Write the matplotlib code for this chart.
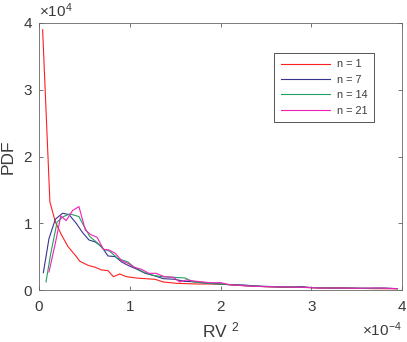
import matplotlib
matplotlib.use("Agg")
import matplotlib.pyplot as plt

# x in units of 1e-4, PDF in units of 1e4 (MATLAB-style exponent labels)
x_n1 = [0.04, 0.12, 0.18, 0.25, 0.32, 0.40, 0.45, 0.54, 0.62, 0.69, 0.76, 0.82, 0.89, 0.96,
        1.07, 1.17, 1.28, 1.37, 1.52, 1.74, 1.96, 2.1, 2.3, 2.5, 2.7, 2.9, 3.1, 3.3, 3.5, 3.7, 3.95]
y_n1 = [3.9, 1.32, 1.02, 0.82, 0.65, 0.52, 0.43, 0.37, 0.34, 0.30, 0.29, 0.20, 0.24, 0.20,
        0.18, 0.17, 0.16, 0.12, 0.10, 0.09, 0.09, 0.08, 0.06, 0.05, 0.04, 0.04, 0.03, 0.03, 0.025, 0.02, 0.02]

x_n7 = [0.048, 0.11, 0.18, 0.26, 0.33, 0.41, 0.48, 0.55, 0.62, 0.69, 0.76, 0.84, 0.91, 0.98,
        1.08, 1.17, 1.28, 1.37, 1.5, 1.6, 1.75, 1.85, 2.0, 2.1, 2.25, 2.4, 2.6, 2.8, 2.9, 3.0,
        3.2, 3.4, 3.6, 3.8, 3.95]
y_n7 = [0.26, 0.77, 1.06, 1.15, 1.13, 1.0, 0.86, 0.75, 0.72, 0.65, 0.51, 0.50, 0.42, 0.37,
        0.31, 0.25, 0.21, 0.17, 0.16, 0.13, 0.12, 0.10, 0.09, 0.08, 0.075, 0.06, 0.05, 0.045, 0.05, 0.035,
        0.03, 0.03, 0.025, 0.03, 0.02]

x_n14 = [0.077, 0.13, 0.20, 0.27, 0.34, 0.44, 0.49, 0.56, 0.64, 0.71, 0.78, 0.87, 0.98, 1.04,
         1.15, 1.26, 1.35, 1.48, 1.61, 1.70, 1.85, 2.1, 2.3, 2.5, 2.7, 2.9, 3.1, 3.3, 3.5, 3.7, 3.95]
y_n14 = [0.12, 0.55, 1.02, 1.10, 1.14, 1.10, 0.97, 0.80, 0.71, 0.61, 0.58, 0.47, 0.42, 0.35,
         0.27, 0.22, 0.20, 0.19, 0.18, 0.12, 0.10, 0.08, 0.065, 0.05, 0.045, 0.04, 0.035, 0.03, 0.025, 0.025, 0.02]

x_n21 = [0.11, 0.18, 0.24, 0.30, 0.37, 0.44, 0.51, 0.57, 0.64, 0.71, 0.77, 0.84, 0.91, 0.98,
         1.05, 1.13, 1.21, 1.29, 1.38, 1.48, 1.55, 1.62, 1.74, 1.88, 2.0, 2.1, 2.3, 2.5, 2.7,
         2.9, 3.1, 3.3, 3.5, 3.7, 3.95]
y_n21 = [0.27, 0.70, 1.11, 1.04, 1.19, 1.25, 0.90, 0.83, 0.79, 0.61, 0.60, 0.55, 0.44, 0.40,
         0.34, 0.31, 0.25, 0.25, 0.20, 0.19, 0.12, 0.15, 0.13, 0.11, 0.11, 0.08, 0.06, 0.05, 0.045,
         0.04, 0.03, 0.03, 0.025, 0.03, 0.02]

series = [
    ("n = 1", x_n1, y_n1, "#ff1f1f"),
    ("n = 7", x_n7, y_n7, "#35358f"),
    ("n = 14", x_n14, y_n14, "#22a060"),
    ("n = 21", x_n21, y_n21, "#f020b8"),
]

plt.rcParams["font.family"] = ["Liberation Sans", "DejaVu Sans"]
plt.rcParams["mathtext.default"] = "regular"
dark = "#3a3a3a"

fig = plt.figure(figsize=(4.07, 3.42), dpi=100)
ax = fig.add_axes([39 / 407, 52 / 342, 363 / 407, 267 / 342])

for label, xs, ys, color in series:
    ax.plot(xs, ys, color=color, lw=0.8, label=label)

ax.set_xlim(0, 4)
ax.set_ylim(0, 4)
ax.set_xticks([0, 1, 2, 3, 4])
ax.set_yticks([0, 1, 2, 3, 4])
ax.tick_params(direction="in", length=3, width=0.5, top=True, right=True,
               labelsize=11, colors=dark, labelcolor=dark)
ax.tick_params(axis="x", pad=7)
ax.tick_params(axis="y", pad=5)
for sp in ax.spines.values():
    sp.set_linewidth(0.6)
    sp.set_color("#666666")

ax.set_xlabel("RV $^{2}$", fontsize=12.5, color=dark, labelpad=5)
ax.set_ylabel("PDF", fontsize=12.5, color=dark, labelpad=6)

ax.text(0.0, 1.012, r"$\times10^{4}$", transform=ax.transAxes, fontsize=11,
        color=dark, ha="left", va="bottom")
ax.text(1.0, -0.115, r"$\times10^{-4}$", transform=ax.transAxes, fontsize=11,
        color=dark, ha="right", va="top")

leg = ax.legend(loc="upper right", bbox_to_anchor=(0.923, 0.888), borderaxespad=0,
                fontsize=7.8, handlelength=4.6, labelspacing=0.5, fancybox=False,
                framealpha=1, borderpad=0.6, handletextpad=0.6)
leg.get_frame().set_edgecolor(dark)
leg.get_frame().set_linewidth(0.6)
for t in leg.get_texts():
    t.set_color(dark)

fig.savefig("out.png", dpi=100)
